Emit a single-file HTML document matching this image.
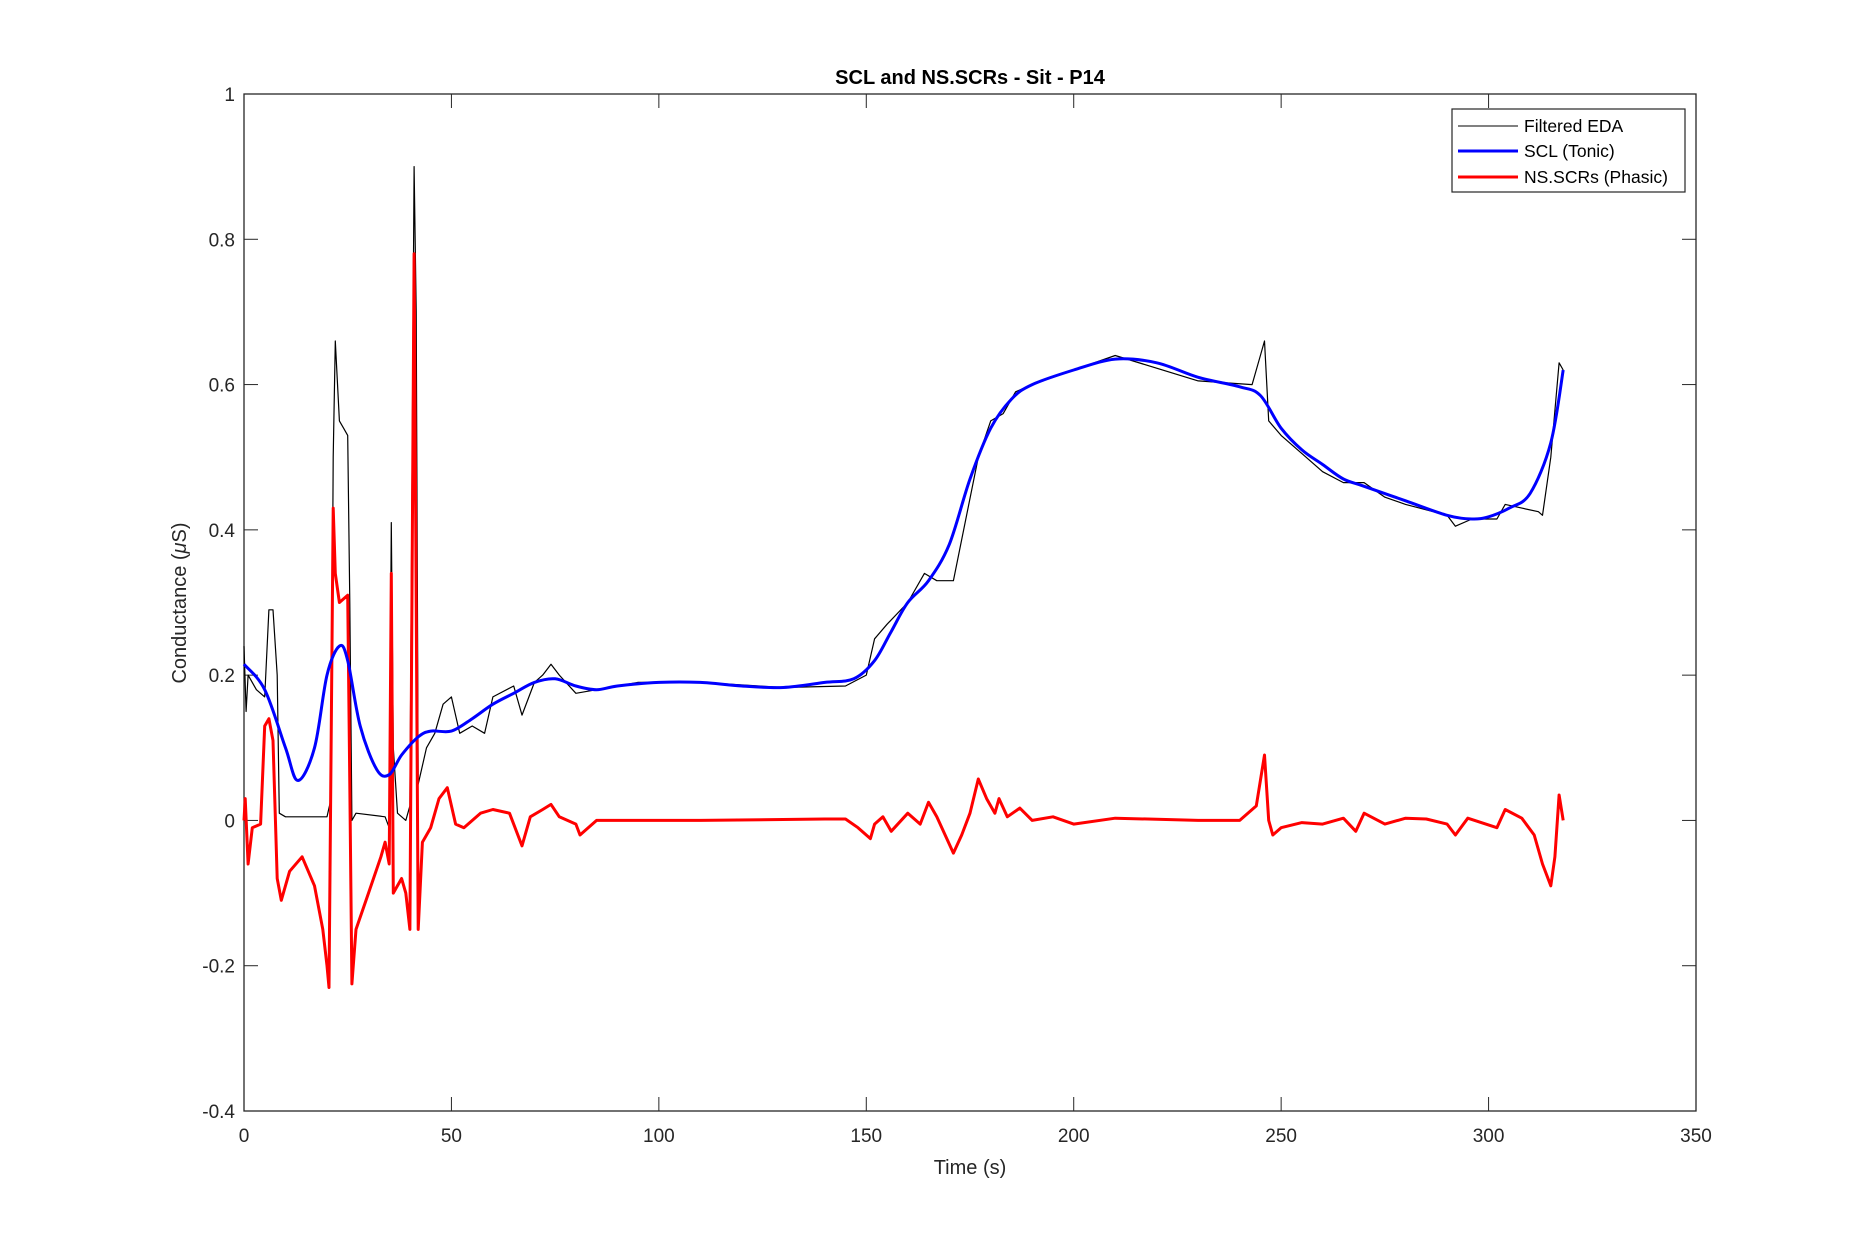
<!DOCTYPE html>
<html><head><meta charset="utf-8"><style>
body{margin:0;background:#fff;}
svg text{font-family:"Liberation Sans",Arial,sans-serif;fill:#262626;}
</style></head><body>
<svg id="chart" width="1875" height="1250" viewBox="0 0 1875 1250" xmlns="http://www.w3.org/2000/svg">
<rect width="1875" height="1250" fill="#fff"/>
<text x="970" y="84" text-anchor="middle" font-size="20" font-weight="bold" style="fill:#000">SCL and NS.SCRs - Sit - P14</text>
<g id="axes"></g>
<g id="series"></g>
<text x="970" y="1174" text-anchor="middle" font-size="20">Time (s)</text>
<text transform="translate(186,603) rotate(-90)" text-anchor="middle" font-size="20">Conductance (<tspan font-style="italic">μ</tspan>S)</text>
<g>
<rect x="1452" y="109" width="233" height="83" fill="#fff" stroke="#262626" stroke-width="1.2"/>
<line x1="1458" y1="126" x2="1518" y2="126" stroke="#000" stroke-width="1"/>
<text x="1524" y="132" font-size="17.5" style="fill:#000">Filtered EDA</text>
<line x1="1458" y1="151" x2="1518" y2="151" stroke="#0000ff" stroke-width="3"/>
<text x="1524" y="157" font-size="17.5" style="fill:#000">SCL (Tonic)</text>
<line x1="1458" y1="177" x2="1518" y2="177" stroke="#ff0000" stroke-width="3"/>
<text x="1524" y="183" font-size="17.5" style="fill:#000">NS.SCRs (Phasic)</text>
</g>
</svg>
<script>
const xTicks=[0,50,100,150,200,250,300,350];
const yTicks=[-0.4,-0.2,0,0.2,0.4,0.6,0.8,1];
const yTickLabels=["-0.4","-0.2","0","0.2","0.4","0.6","0.8","1"];
const sclT=[0,5,10,13,17,20,23,25,28,32,35,38,42,45,50,55,60,65,70,75,80,85,90,100,110,120,130,140,147,152,156,160,165,170,175,180,185,190,200,210,220,230,240,245,250,255,260,265,270,280,290,296,300,305,310,315,318];
const sclV=[0.215,0.18,0.1,0.055,0.1,0.2,0.24,0.22,0.13,0.07,0.063,0.09,0.115,0.123,0.123,0.14,0.16,0.175,0.19,0.195,0.185,0.18,0.185,0.19,0.19,0.185,0.183,0.19,0.195,0.22,0.26,0.3,0.33,0.38,0.47,0.54,0.58,0.6,0.62,0.635,0.63,0.61,0.597,0.585,0.54,0.51,0.49,0.47,0.46,0.44,0.42,0.415,0.418,0.43,0.45,0.52,0.62];
const edaT=[0,0.5,1,3,5,6,7,8,8.5,10,20,21,21.5,22,23,24,25,25.5,26,27,34,35,35.5,36,37,39,40,41,41.5,42,44,46,48,50,52,55,58,60,65,67,70,72,74,76,80,85,95,110,130,145,150,152,155,160,164,167,171,177,180,183,186,190,200,210,230,243,245,246,247,250,255,260,265,270,275,280,290,292,296,302,304,308,312,313,315,317,318];
const edaV=[0.24,0.15,0.2,0.18,0.17,0.29,0.29,0.2,0.01,0.005,0.005,0.03,0.5,0.66,0.55,0.54,0.53,0.3,0,0.01,0.005,-0.01,0.41,0.1,0.01,0,0.02,0.9,0.7,0.05,0.1,0.12,0.16,0.17,0.12,0.13,0.12,0.17,0.185,0.145,0.19,0.2,0.215,0.2,0.175,0.18,0.19,0.19,0.183,0.185,0.2,0.25,0.27,0.3,0.34,0.33,0.33,0.5,0.55,0.56,0.59,0.6,0.62,0.64,0.605,0.6,0.64,0.66,0.55,0.53,0.505,0.48,0.465,0.465,0.445,0.435,0.42,0.405,0.415,0.415,0.435,0.43,0.425,0.42,0.5,0.63,0.62];
const scrT=[0,0.3,1,2,4,5,6,7,8,9,11,14,17,19,20,20.5,21,21.5,22,23,25,25.5,26,27,30,33,34,35,35.5,36,38,39,40,41,41.5,42,43,45,47,49,51,53,57,60,64,67,69,72,74,76,80,81,85,100,110,140,145,148,151,152,154,156,160,163,165,167,171,173,175,177,179,181,182,184,187,190,195,200,210,230,240,244,246,247,248,250,255,260,265,268,270,275,280,285,290,292,295,302,304,308,311,313,315,316,317,318];
const scrV=[0,0.03,-0.06,-0.01,-0.005,0.13,0.14,0.11,-0.08,-0.11,-0.07,-0.05,-0.09,-0.15,-0.2,-0.23,0.1,0.43,0.34,0.3,0.31,0.05,-0.225,-0.15,-0.1,-0.05,-0.03,-0.06,0.34,-0.1,-0.08,-0.1,-0.15,0.78,0.3,-0.15,-0.03,-0.01,0.03,0.045,-0.005,-0.01,0.01,0.015,0.01,-0.035,0.005,0.015,0.022,0.005,-0.005,-0.02,0,0,0,0.002,0.002,-0.01,-0.025,-0.005,0.005,-0.015,0.01,-0.005,0.025,0.005,-0.045,-0.02,0.01,0.057,0.03,0.01,0.03,0.005,0.017,0,0.005,-0.005,0.003,0,0,0.02,0.09,0,-0.02,-0.01,-0.003,-0.005,0.003,-0.015,0.01,-0.005,0.003,0.002,-0.005,-0.02,0.003,-0.01,0.015,0.003,-0.02,-0.06,-0.09,-0.05,0.035,0];

const L=244,R=1696,T=94,B=1111;
const xs=t=>L+(t-0)/(350-0)*(R-L);
const ys=v=>B-(v+0.4)/1.4*(B-T);
const NS="http://www.w3.org/2000/svg";
const axes=document.getElementById('axes');
const series=document.getElementById('series');
function mk(tag,attrs,parent){const e=document.createElementNS(NS,tag);for(const k in attrs)e.setAttribute(k,attrs[k]);parent.appendChild(e);return e;}
const frame=mk('rect',{x:L,y:T,width:R-L,height:B-T,fill:'none',stroke:'#262626','stroke-width':1.3},axes);


xTicks.forEach(t=>{
  const x=xs(t);
  mk('line',{x1:x,y1:B,x2:x,y2:B-14,stroke:'#262626'},axes);
  mk('line',{x1:x,y1:T,x2:x,y2:T+14,stroke:'#262626'},axes);
  const lb=mk('text',{x:x,y:B+31,'text-anchor':'middle','font-size':19},axes);
  lb.textContent=t;
  
  
});
yTicks.forEach((v,i)=>{
  const y=ys(v);
  mk('line',{x1:L,y1:y,x2:L+14,y2:y,stroke:'#262626'},axes);
  mk('line',{x1:R,y1:y,x2:R-14,y2:y,stroke:'#262626'},axes);
  const lb=mk('text',{x:L-9,y:y+7,'text-anchor':'end','font-size':19},axes);
  lb.textContent=yTickLabels[i];
  
  
});
function line(T_,V_,color,w,name,smooth){
  const P=T_.map((t,i)=>[xs(t),ys(V_[i])]);
  let d='M'+P[0][0].toFixed(1)+','+P[0][1].toFixed(1);
  for(let i=1;i<P.length;i++){
    if(!smooth){d+='L'+P[i][0].toFixed(1)+','+P[i][1].toFixed(1);continue;}
    const p0=P[Math.max(0,i-2)],p1=P[i-1],p2=P[i],p3=P[Math.min(P.length-1,i+1)];
    const c1=[p1[0]+(p2[0]-p0[0])/6,p1[1]+(p2[1]-p0[1])/6];
    const c2=[p2[0]-(p3[0]-p1[0])/6,p2[1]-(p3[1]-p1[1])/6];
    d+='C'+c1[0].toFixed(1)+','+c1[1].toFixed(1)+' '+c2[0].toFixed(1)+','+c2[1].toFixed(1)+' '+p2[0].toFixed(1)+','+p2[1].toFixed(1);
  }
  const p=mk('path',{d:d,fill:'none',stroke:color,'stroke-width':w,'stroke-linejoin':'round'},series);
  
  
}
line(edaT,edaV,'#000',1.2,'filtered-eda-line',false);
line(scrT,scrV,'#ff0000',3,'nsscr-phasic-line',false);
line(sclT,sclV,'#0000ff',3,'scl-tonic-line',true);
</script>
</body></html>
